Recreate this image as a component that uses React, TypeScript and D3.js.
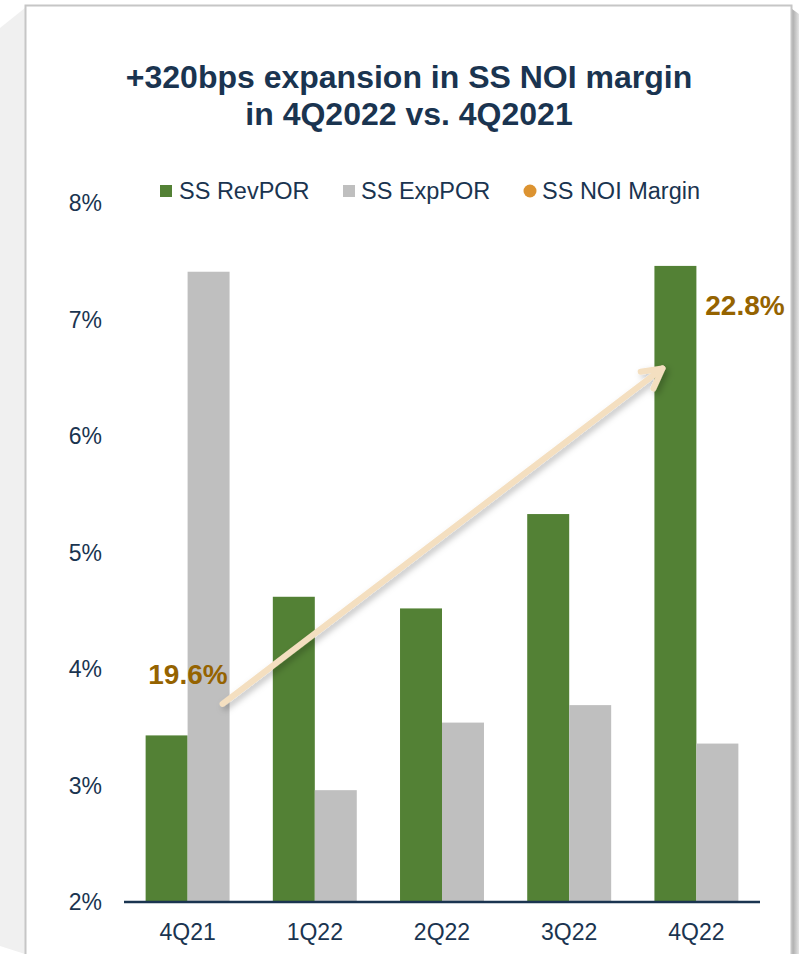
import React from "react";
import * as d3 from "d3";

const categories = ["4Q21", "1Q22", "2Q22", "3Q22", "4Q22"];
const revPOR = [3.43, 4.62, 4.52, 5.33, 7.46];
const expPOR = [7.41, 2.96, 3.54, 3.69, 3.36];
const yTicks = [2, 3, 4, 5, 6, 7, 8];
const seriesNames = ["SS RevPOR", "SS ExpPOR", "SS NOI Margin"];
const marginLabels = ["19.6%", "22.8%"];
const titleLines = ["+320bps expansion in SS NOI margin", "in 4Q2022 vs. 4Q2021"];

const W = 799;
const H = 954;
const GREEN = "#538135";
const GRAY = "#bfbfbf";
const ORANGE = "#dc9331";
const NAVY = "#1a3450";
const LABEL = "#956300";
const FONT = "Liberation Sans, Arial, sans-serif";

export default function App() {
  const x = d3.scaleBand<string>().domain(categories).range([124, 760]).paddingInner(0.34).paddingOuter(0.17);
  const x2 = d3.scaleBand<string>().domain(["rev", "exp"]).range([0, x.bandwidth()]);
  const y = d3.scaleLinear().domain([2, 8]).range([902, 203]);

  const arrowStart: [number, number] = [(x("4Q21") as number) + x.bandwidth() - 7, y(3.7)];
  const arrowEnd: [number, number] = [(x("4Q22") as number) + 8, y(6.58)];
  const ang = Math.atan2(arrowEnd[1] - arrowStart[1], arrowEnd[0] - arrowStart[0]);
  const headLen = 22;
  const h1 = [arrowEnd[0] - headLen * Math.cos(ang - 0.5), arrowEnd[1] - headLen * Math.sin(ang - 0.5)];
  const h2 = [arrowEnd[0] - headLen * Math.cos(ang + 0.5), arrowEnd[1] - headLen * Math.sin(ang + 0.5)];

  return (
    <svg width={W} height={H} style={{ position: "absolute", left: 0, top: 0 }} fontFamily={FONT}>
      <defs>
        <filter id="sh" x="-20%" y="-20%" width="140%" height="140%">
          <feDropShadow dx="3" dy="3" stdDeviation="3" floodColor="#000" floodOpacity="0.25" />
        </filter>
        <linearGradient id="rs" x1="0" x2="1" y1="0" y2="0">
          <stop offset="0" stopColor="#a8a8a8" />
          <stop offset="1" stopColor="#e4e4e4" />
        </linearGradient>
      </defs>
      <rect x={0} y={0} width={W} height={H} fill="#ffffff" />
      <polygon points="0,28 25,8 25,954 0,946" fill="#f0f0f0" />
      <polygon points={`792,9 799,14 799,${H} 792,${H}`} fill="url(#rs)" />
      <rect x={25.5} y={5.5} width={766} height={H + 10} fill="#ffffff" stroke="#c6c6c6" strokeWidth={2} />

      {titleLines.map((t, i) => (
        <text key={i} x={409} y={88 + i * 37} textAnchor="middle" fontSize={32} fontWeight="bold" fill={NAVY}>
          {t}
        </text>
      ))}

      {/* legend */}
      <rect x={160} y={185} width={12} height={12} fill={GREEN} />
      <text x={179} y={191} dominantBaseline="central" fontSize={23.5} fill={NAVY}>{seriesNames[0]}</text>
      <rect x={343} y={185} width={12} height={12} fill={GRAY} />
      <text x={361} y={191} dominantBaseline="central" fontSize={23.5} fill={NAVY}>{seriesNames[1]}</text>
      <circle cx={530} cy={191} r={6.5} fill={ORANGE} />
      <text x={542} y={191} dominantBaseline="central" fontSize={23.5} fill={NAVY}>{seriesNames[2]}</text>

      {/* y ticks */}
      {yTicks.map((t) => (
        <text key={t} x={102} y={y(t)} textAnchor="end" dominantBaseline="central" fontSize={23} fill={NAVY}>
          {t}%
        </text>
      ))}

      {/* bars */}
      {categories.map((c, i) => (
        <g key={c} transform={`translate(${x(c)},0)`}>
          <rect x={x2("rev")} y={y(revPOR[i])} width={x2.bandwidth()} height={y(2) - y(revPOR[i])} fill={GREEN} />
          <rect x={x2("exp")} y={y(expPOR[i])} width={x2.bandwidth()} height={y(2) - y(expPOR[i])} fill={GRAY} />
          <text x={x.bandwidth() / 2} y={932} textAnchor="middle" dominantBaseline="central" fontSize={23} fill={NAVY}>
            {c}
          </text>
        </g>
      ))}

      <line x1={124} x2={760} y1={y(2)} y2={y(2)} stroke={NAVY} strokeWidth={2.5} />

      {/* arrow */}
      <g filter="url(#sh)" stroke="#f4dfc0" strokeWidth={6} strokeLinecap="round" strokeLinejoin="round" fill="none">
        <line x1={arrowStart[0]} y1={arrowStart[1]} x2={arrowEnd[0]} y2={arrowEnd[1]} />
        <polyline points={`${h1[0]},${h1[1]} ${arrowEnd[0]},${arrowEnd[1]} ${h2[0]},${h2[1]}`} />
      </g>

      <text x={188} y={674} textAnchor="middle" dominantBaseline="central" fontSize={28} fontWeight="bold" fill={LABEL}>
        {marginLabels[0]}
      </text>
      <text x={745} y={305} textAnchor="middle" dominantBaseline="central" fontSize={28} fontWeight="bold" fill={LABEL}>
        {marginLabels[1]}
      </text>
    </svg>
  );
}
